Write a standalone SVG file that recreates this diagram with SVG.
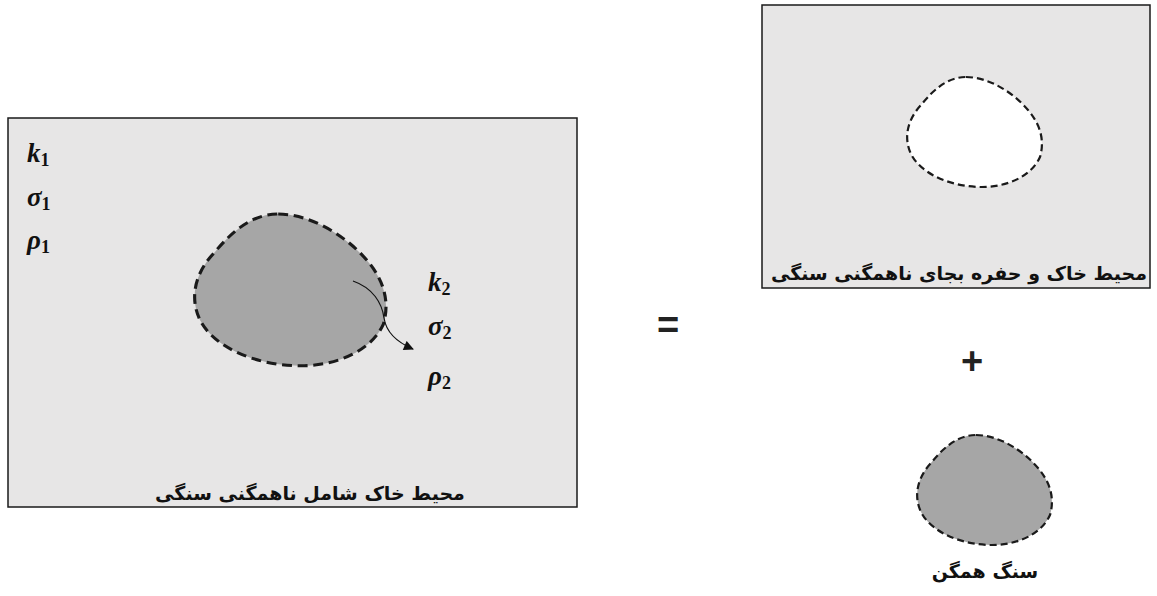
<svg xmlns="http://www.w3.org/2000/svg" width="1157" height="596" viewBox="0 0 1157 596">
<defs>
<style>
.panel{fill:#e7e6e6;stroke:#1a1a1a;stroke-width:1.5}
.blob{fill:#a6a6a6;stroke:#1a1a1a;stroke-width:2.2;stroke-dasharray:7 4;vector-effect:non-scaling-stroke}
.hole{fill:#ffffff;stroke:#1a1a1a;stroke-width:2.2;stroke-dasharray:7 4;vector-effect:non-scaling-stroke}
.m{font-family:"Liberation Serif","DejaVu Serif",serif;font-weight:bold;font-style:italic;font-size:27px;fill:#111}
.sub{font-style:normal;font-size:18px}
.fa{font-family:"DejaVu Sans",sans-serif;font-weight:bold;font-size:19px;fill:#111}
.op{font-family:"Liberation Sans",sans-serif;font-weight:bold;font-size:38px;fill:#222}
</style>
<path id="shape" d="M 60,0 C 82,0 107,15 122,33 C 134,47 139,63 134,80 C 125,100 100,110 76,110 C 45,110 15,97 5,77 C -3,60 2,42 15,28 C 28,12 42,0 60,0 Z"/>
<marker id="ah" viewBox="0 0 10 10" refX="9" refY="5" markerWidth="11" markerHeight="10" markerUnits="userSpaceOnUse" orient="auto">
<path d="M0,0 L10,5 L0,10 Z" fill="#111"/>
</marker>
</defs>

<g id="left-panel">
<rect class="panel" x="8" y="118" width="569" height="389"/>
<use href="#shape" class="blob" transform="translate(193,214) scale(1.42,1.38)"/>
<text class="m" x="27" y="162">k<tspan class="sub" dy="4">1</tspan></text>
<text class="m" x="27" y="206">σ<tspan class="sub" dy="4">1</tspan></text>
<text class="m" x="27" y="249">ρ<tspan class="sub" dy="4">1</tspan></text>
<text class="m" x="428" y="291">k<tspan class="sub" dy="4">2</tspan></text>
<text class="m" x="428" y="335">σ<tspan class="sub" dy="4">2</tspan></text>
<text class="m" x="428" y="385">ρ<tspan class="sub" dy="4">2</tspan></text>
<text class="fa" x="310" y="500" text-anchor="middle" direction="rtl">محیط خاک شامل ناهمگنی سنگی</text>
</g>

<g id="connectors">
<path d="M 353,281 C 373,288 382,303 384,318 C 386,331 394,341 413,349" fill="none" stroke="#111" stroke-width="1.2" marker-end="url(#ah)"/>
</g>

<g id="equals">
<text class="op" x="668" y="338" text-anchor="middle">=</text>
</g>

<g id="top-right-panel">
<rect class="panel" x="762" y="5" width="388" height="283"/>
<use href="#shape" class="hole" transform="translate(906,77)"/>
<text class="fa" x="959" y="280" text-anchor="middle" direction="rtl">محیط خاک و حفره بجای ناهمگنی سنگی</text>
</g>

<g id="plus">
<text class="op" x="972" y="374" text-anchor="middle">+</text>
</g>

<g id="rock">
<use href="#shape" class="blob" transform="translate(916,435)"/>
<text class="fa" x="985" y="578" text-anchor="middle" direction="rtl">سنگ همگن</text>
</g>
</svg>
